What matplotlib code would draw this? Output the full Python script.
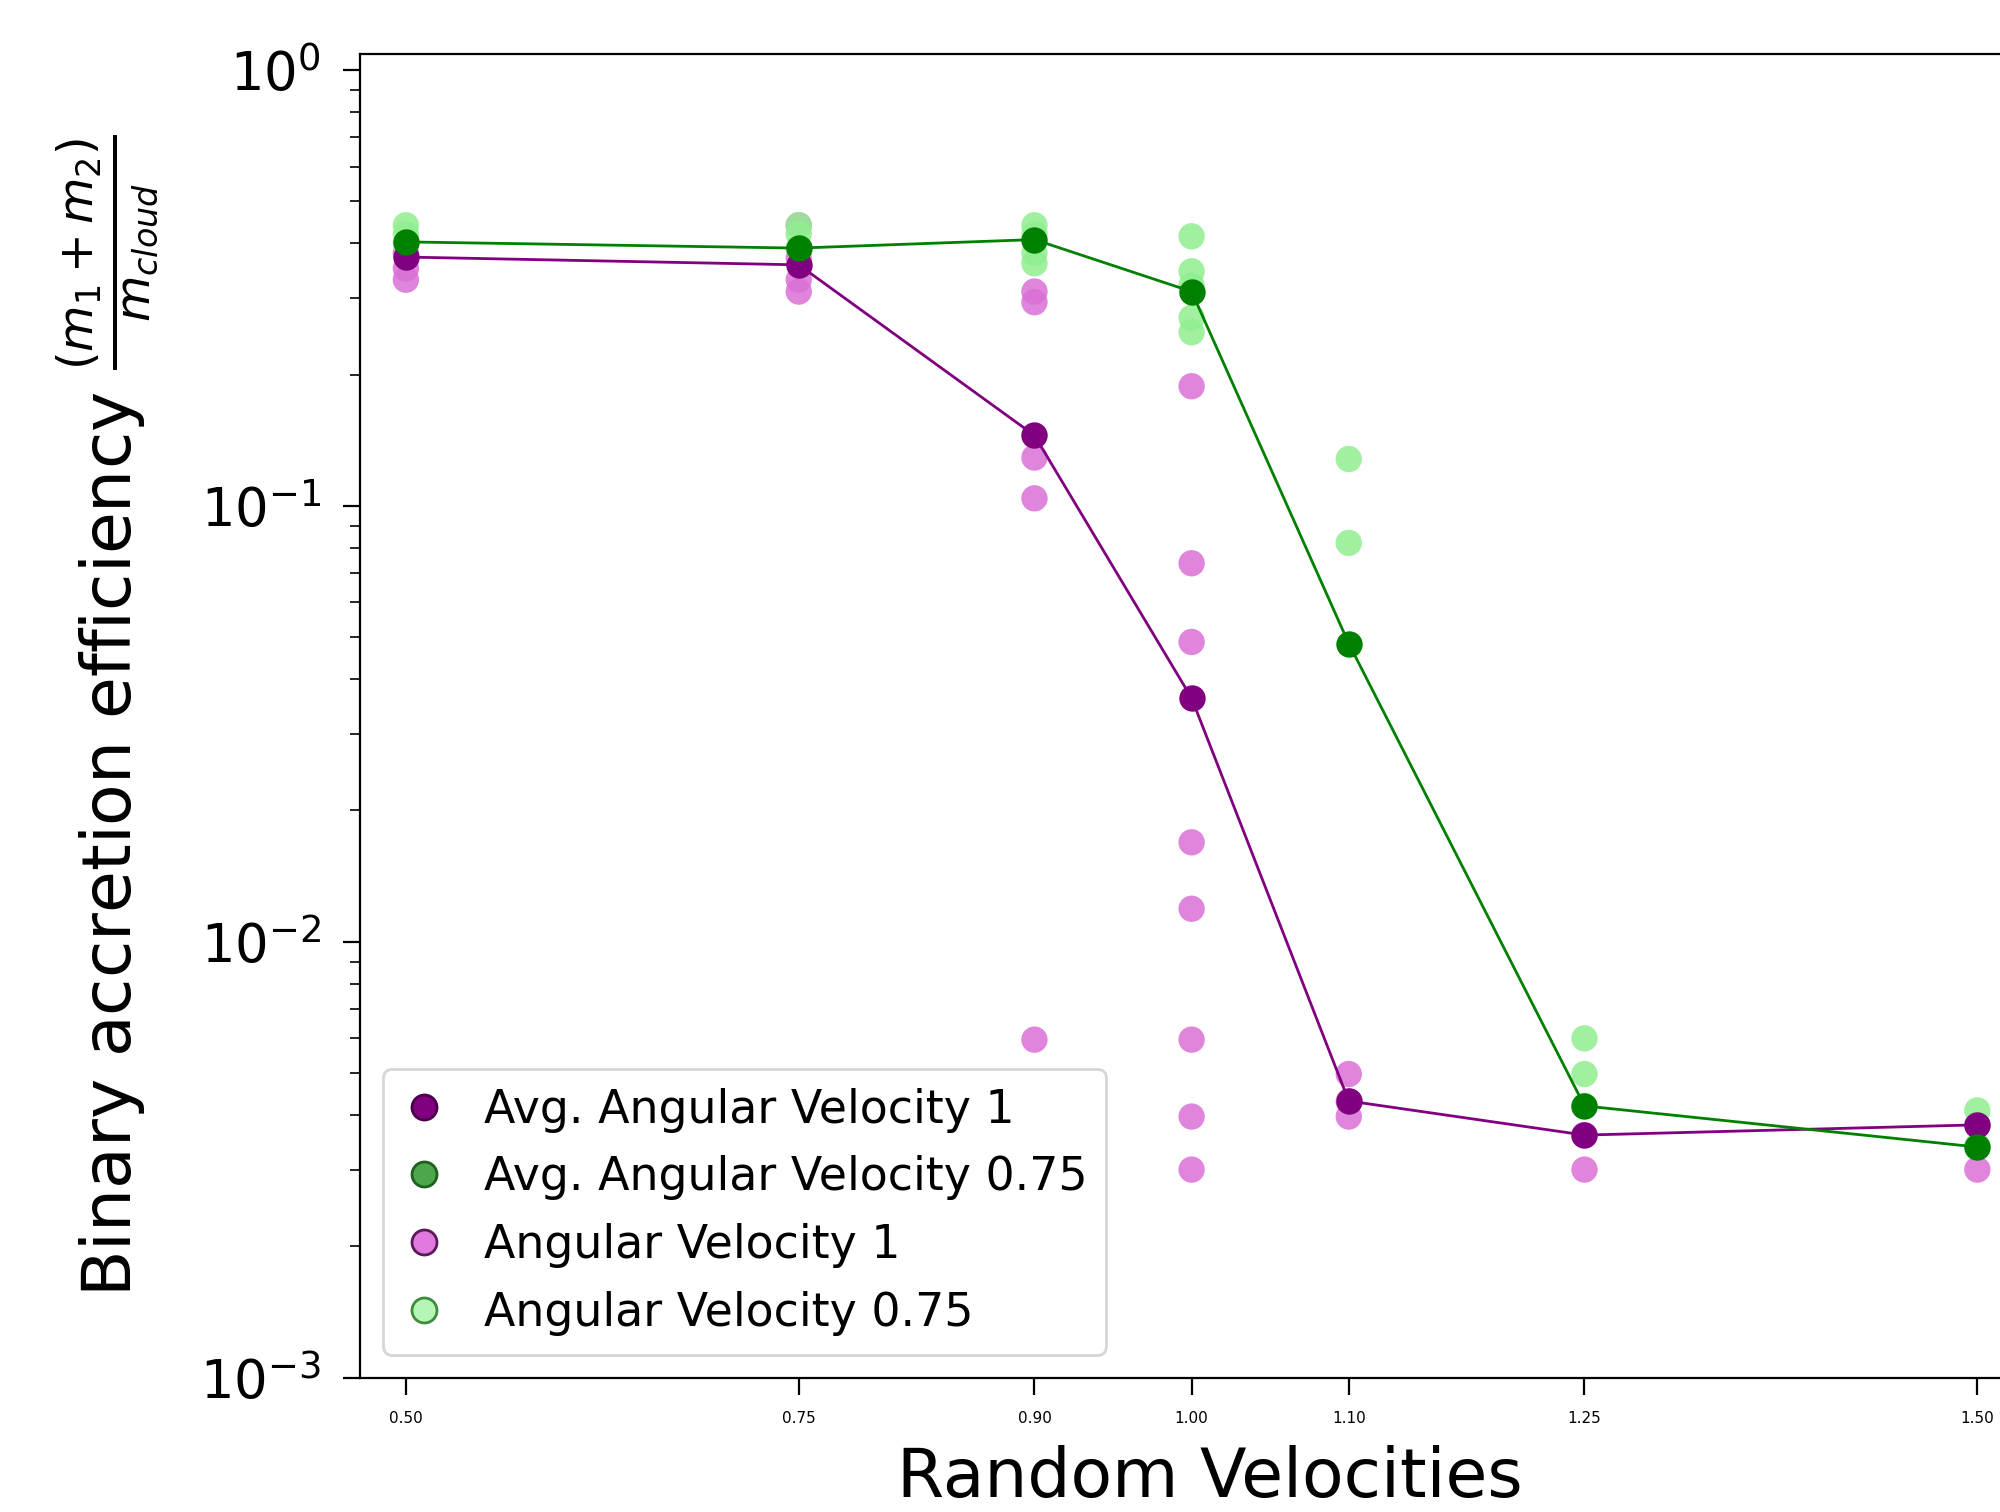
import numpy as np
import matplotlib
matplotlib.use('Agg')
import matplotlib.pyplot as plt
from matplotlib.lines import Line2D

# ── data ──────────────────────────────────────────────────
velocities = [0.50, 0.75, 0.90, 1.00, 1.10, 1.25, 1.50]
tick_labels = ['0.50', '0.75', '0.90', '1.00', '1.10', '1.25', '1.50']

avg_av1 = [0.372, 0.357, 0.145, 0.0362, 0.00431, 0.0036, 0.0038]
avg_av075 = [0.403, 0.390, 0.408, 0.310, 0.0483, 0.0042, 0.00338]

# individual runs, angular velocity 1
av1_x = [0.50, 0.50, 0.50,
         0.75, 0.75, 0.75, 0.75,
         0.90, 0.90, 0.90, 0.90, 0.90,
         1.00, 1.00, 1.00, 1.00, 1.00, 1.00, 1.00, 1.00,
         1.10, 1.10, 1.10,
         1.25, 1.25,
         1.50, 1.50]
av1_y = [0.38, 0.35, 0.33,
         0.44, 0.37, 0.33, 0.31,
         0.31, 0.293, 0.129, 0.104, 0.00596,
         0.188, 0.0738, 0.0487, 0.0169, 0.0119, 0.00596, 0.00397, 0.0030,
         0.00497, 0.0043, 0.00397,
         0.0036, 0.0030,
         0.0038, 0.0030]

# individual runs, angular velocity 0.75
av075_x = [0.50, 0.50, 0.50,
           0.75, 0.75, 0.75,
           0.90, 0.90, 0.90, 0.90,
           1.00, 1.00, 1.00, 1.00, 1.00,
           1.10, 1.10,
           1.25, 1.25, 1.25,
           1.50, 1.50]
av075_y = [0.44, 0.42, 0.40,
           0.44, 0.42, 0.39,
           0.44, 0.42, 0.38, 0.36,
           0.415, 0.345, 0.32, 0.27, 0.25,
           0.128, 0.0822,
           0.006, 0.00497, 0.0042,
           0.0041, 0.0034]

# ── colours ──────────────────────────────────────────────
AVG1_COLOR = 'purple'
AVG075_COLOR = 'green'
AV1_COLOR = 'orchid'
AV075_COLOR = 'lightgreen'

fig = plt.figure(figsize=(10, 7.56), dpi=200)
ax = fig.add_axes([0.18, 0.0889, 0.85, 0.8757])

ax.scatter(av1_x, av1_y, s=90, color=AV1_COLOR, alpha=0.85, edgecolors='none', zorder=2)
ax.scatter(av075_x, av075_y, s=90, color=AV075_COLOR, alpha=0.85, edgecolors='none', zorder=2)

ax.plot(velocities, avg_av1, color=AVG1_COLOR, lw=1.0, marker='o', ms=9.5,
        markeredgewidth=0, zorder=3)
ax.plot(velocities, avg_av075, color=AVG075_COLOR, lw=1.0, marker='o', ms=9.5,
        markeredgewidth=0, zorder=3)

ax.set_yscale('log')
ax.set_ylim(1e-3, 1.09)
ax.set_xlim(0.4708, 1.5526)
ax.set_xticks(velocities)
ax.set_xticklabels(tick_labels, fontsize=5.5)
ax.tick_params(axis='y', which='major', labelsize=19, length=6, pad=8)
ax.tick_params(axis='y', which='minor', length=3.5)
ax.tick_params(axis='x', length=6, pad=6)

ax.set_xlabel('Random Velocities', fontsize=24.5, labelpad=7)
ax.set_ylabel(r'Binary accretion efficiency $\frac{(m_1+m_2)}{m_{cloud}}$',
              fontsize=24.5, labelpad=14)

handles = [
    Line2D([], [], ls='', marker='o', ms=9, markerfacecolor='#800080',
           markeredgecolor='#4a004a'),
    Line2D([], [], ls='', marker='o', ms=9, markerfacecolor='#4ca64c',
           markeredgecolor='#1f5f1f'),
    Line2D([], [], ls='', marker='o', ms=9, markerfacecolor='#e07ade',
           markeredgecolor='#5a1a5a'),
    Line2D([], [], ls='', marker='o', ms=9, markerfacecolor='#b5f5b5',
           markeredgecolor='#3c8c3c'),
]
labels = ['Avg. Angular Velocity 1', 'Avg. Angular Velocity 0.75',
          'Angular Velocity 1', 'Angular Velocity 0.75']
ax.legend(handles, labels, loc='lower left', fontsize=16.5,
          handlelength=1.0, handletextpad=0.8)

fig.savefig('out.png', dpi=200)
